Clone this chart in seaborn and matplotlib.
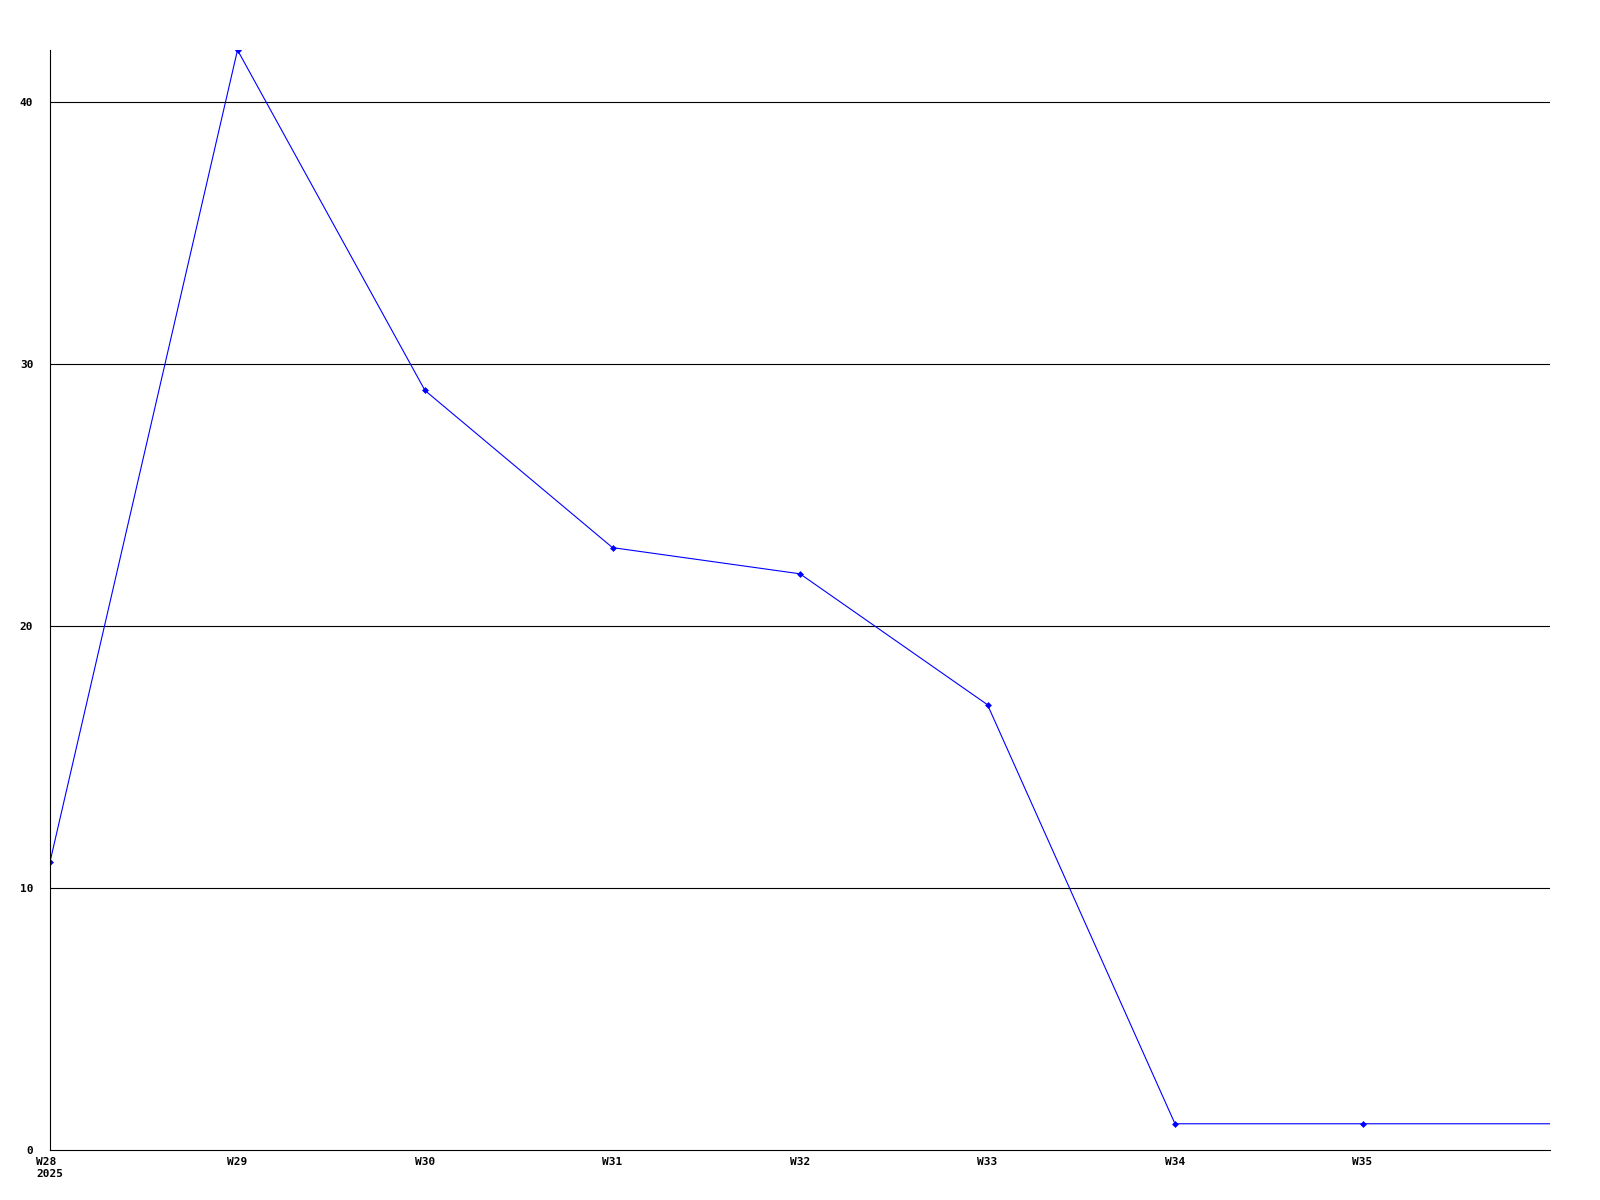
import numpy as np
import pandas as pd
import seaborn as sns
import matplotlib.pyplot as plt

# weekly counts, 2025
weeks = ["W28", "W29", "W30", "W31", "W32", "W33", "W34", "W35", "W36"]
counts = [11, 42, 29, 23, 22, 17, 1, 1, 1]
tick_labels = ["W28\n2025", "W29", "W30", "W31", "W32", "W33", "W34", "W35"]
y_ticks = [0, 10, 20, 30, 40]

sns.set_style("white")
plt.rcParams['font.family'] = ['DejaVu Sans Mono']
plt.rcParams['text.color'] = 'black'
plt.rcParams['xtick.color'] = 'black'
plt.rcParams['ytick.color'] = 'black'

df = pd.DataFrame({"pos": np.arange(len(weeks)), "count": counts})

fig = plt.figure(figsize=(16, 12), dpi=100)
ax = fig.add_axes([0.03125, 0.0417, 0.9375, 0.9166])

sns.lineplot(data=df, x="pos", y="count", ax=ax, color="#0000ff", linewidth=0.8,
             marker="D", markersize=3.5, markeredgewidth=0,
             markevery=list(range(len(tick_labels))))

ax.set_xlim(0, len(weeks) - 1)
ax.set_ylim(0, max(counts))
ax.set_xticks(np.arange(len(tick_labels)))
ax.set_xticklabels(tick_labels, fontsize=8, fontweight="bold", multialignment="left")
ax.set_yticks(y_ticks)
ax.set_yticklabels([str(v) for v in y_ticks], fontsize=8, fontweight="bold")
ax.tick_params(axis="both", length=0, colors="black")
ax.tick_params(axis="x", pad=5)
ax.tick_params(axis="y", pad=12)

for v in y_ticks[1:]:
    ax.axhline(v, color="black", linewidth=0.8, zorder=0)

for side in ["top", "right"]:
    ax.spines[side].set_visible(False)
for side in ["left", "bottom"]:
    ax.spines[side].set_color("black")
    ax.spines[side].set_linewidth(0.8)

ax.set_xlabel("")
ax.set_ylabel("")

fig.savefig("out.png", dpi=100)
